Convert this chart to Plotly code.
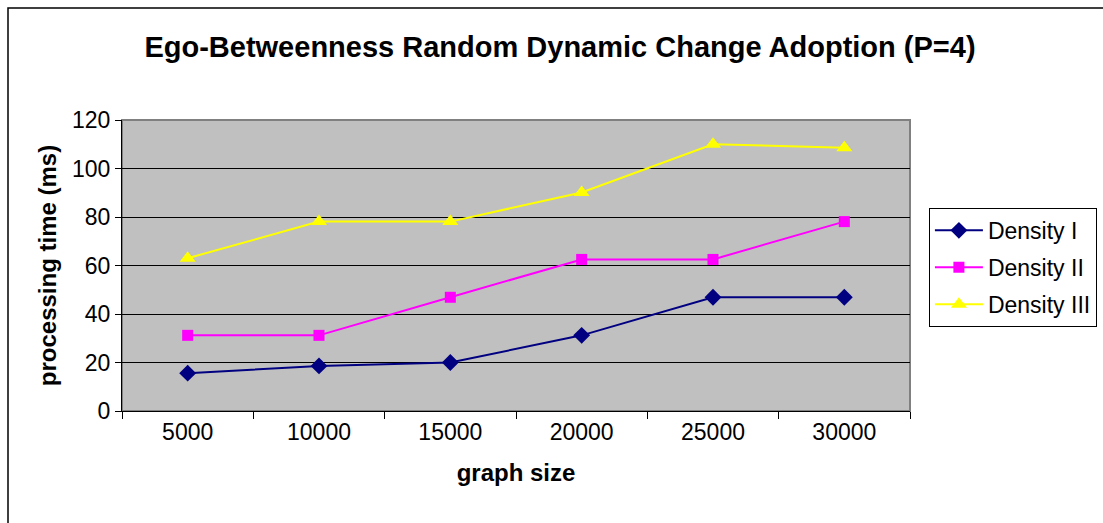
import plotly.graph_objects as go

# graph sizes (x categories)
graph_sizes = ["5000", "10000", "15000", "20000", "25000", "30000"]

# processing time (ms) for each density level
density_1 = [15.6, 18.6, 20.0, 31.2, 46.9, 46.9]
density_2 = [31.2, 31.2, 46.9, 62.5, 62.5, 78.1]
density_3 = [63.0, 78.1, 78.1, 90.1, 110.0, 108.6]

y_ticks = [0, 20, 40, 60, 80, 100, 120]

FONT = "Liberation Sans, Arial, sans-serif"

fig = go.Figure()

fig.add_trace(go.Scatter(
    x=graph_sizes, y=density_1, name="Density I", mode="lines+markers",
    line=dict(color="#000080", width=2),
    marker=dict(symbol="diamond", size=13, color="#000080"),
    legendgroup="g1",
))
fig.add_trace(go.Scatter(
    x=graph_sizes, y=density_2, name="Density II", mode="lines+markers",
    line=dict(color="#FF00FF", width=2),
    marker=dict(symbol="square", size=11, color="#FF00FF"),
    legendgroup="g2",
))
fig.add_trace(go.Scatter(
    x=graph_sizes, y=density_3, name="Density III", mode="lines+markers",
    line=dict(color="#FFFF00", width=2),
    marker=dict(symbol="triangle-up", size=14, color="#FFFF00"),
    legendgroup="g3",
))

# grey frame on top/right of the plotting area
fig.add_shape(type="rect", xref="paper", yref="paper", x0=0, x1=1, y0=0, y1=1,
              line=dict(color="#808080", width=2), layer="below")
# outer chart border (runs off the right and bottom edges)
fig.add_shape(type="rect", xref="paper", yref="paper",
              x0=(8 - 122) / 788, x1=(1130 - 122) / 788,
              y0=(411 - 540) / 291, y1=1 + (120 - 8) / 291,
              line=dict(color="black", width=1.5), layer="below")

fig.update_layout(
    width=1103, height=523,
    margin=dict(l=122, r=193, t=120, b=112, autoexpand=False),
    paper_bgcolor="white",
    plot_bgcolor="#C0C0C0",
    font=dict(family=FONT, color="black"),
    title=dict(
        text="<b>Ego-Betweenness Random Dynamic Change Adoption (P=4)</b>",
        font=dict(size=29, family=FONT, color="black"),
        x=560 / 1103, xanchor="center", y=1 - 47 / 523, yanchor="middle",
    ),
    legend=dict(
        x=1.024, xanchor="left", y=0.698, yanchor="top",
        bgcolor="white", bordercolor="black", borderwidth=1,
        font=dict(size=23, family=FONT, color="black"),
        tracegroupgap=4, itemwidth=48,
    ),
    xaxis=dict(
        type="category", range=[-0.5, 5.5],
        showgrid=False, zeroline=False,
        showline=True, linecolor="black", linewidth=1,
        ticks="outside", tickson="boundaries", ticklen=7, tickcolor="black",
        tickfont=dict(size=23, family=FONT),
        title=dict(text="<b>graph size</b>", font=dict(size=24, family=FONT), standoff=20),
    ),
    yaxis=dict(
        range=[0, 120], tickvals=y_ticks,
        showgrid=True, gridcolor="black", gridwidth=1,
        zeroline=False,
        showline=True, linecolor="black", linewidth=1,
        ticks="outside", ticklen=6, tickcolor="black",
        tickfont=dict(size=23, family=FONT),
        title=dict(text="<b>processing time (ms)</b>", font=dict(size=24, family=FONT), standoff=8),
    ),
)

fig.write_html("out.html")
